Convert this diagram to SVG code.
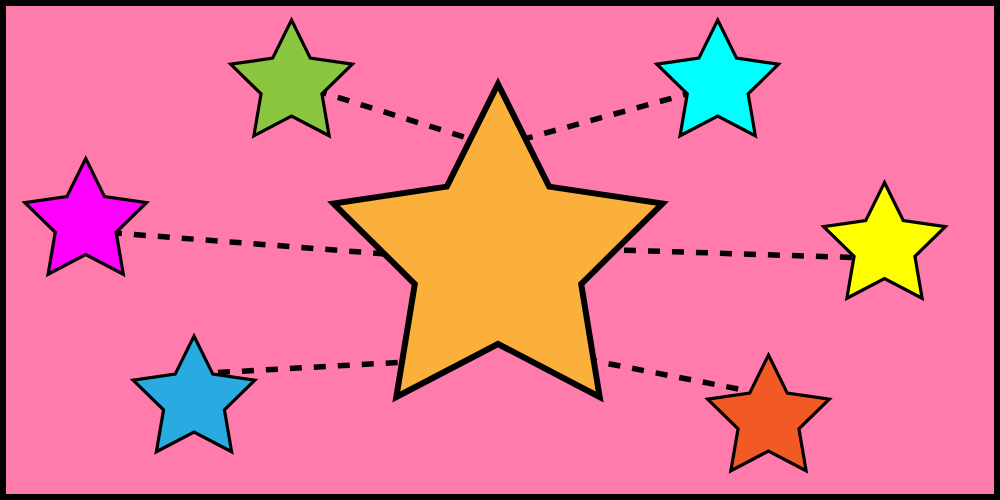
<svg xmlns="http://www.w3.org/2000/svg" xmlns:xlink="http://www.w3.org/1999/xlink" width="1000" height="500" viewBox="0 0 1000 500">
  <style>
    .link { fill: none; stroke: #000; stroke-width: 5.5; stroke-dasharray: 12 12; }
    .small { stroke: #000; stroke-width: 3.2; stroke-linejoin: miter; }
    .big { stroke: #000; stroke-width: 6; stroke-linejoin: miter; }
  </style>
  <defs>
    <path id="star" d="M0,-64 L18.81,-25.89 L60.87,-19.78 L30.43,9.89 L37.62,51.78 L0,32 L-37.62,51.78 L-30.43,9.89 L-60.87,-19.78 L-18.81,-25.89 Z"/>
  </defs>
  <rect x="3" y="3" width="994" height="494" fill="#FF7BAC" stroke="#000" stroke-width="6"/>
  <g id="connectors">
    <line class="link" x1="292" y1="83" x2="490" y2="145.1"/>
    <line class="link" x1="717.7" y1="85.5" x2="510" y2="142.9"/>
    <line class="link" x1="86" y1="230.8" x2="400" y2="255.1"/>
    <line class="link" x1="600" y1="249.4" x2="884" y2="258.5"/>
    <line class="link" x1="194" y1="373.8" x2="420" y2="361.3"/>
    <line class="link" x1="585" y1="359.1" x2="765" y2="394.2"/>
  </g>
  <g id="center-star">
    <path class="big" fill="#FBB03B" d="M498,84 L549.14,186.62 L662.53,203.54 L581.2,284 L599.69,396.96 L498,344 L396.31,396.96 L414.8,284 L333.47,203.54 L446.86,186.62 Z"/>
  </g>
  <g id="star-green"><use xlink:href="#star" href="#star" class="small" fill="#8CC63F" transform="translate(291.5,84)"/></g>
  <g id="star-cyan"><use xlink:href="#star" href="#star" class="small" fill="#00FFFF" transform="translate(717.7,84)"/></g>
  <g id="star-magenta"><use xlink:href="#star" href="#star" class="small" fill="#FF00FF" transform="translate(85.7,222.5)"/></g>
  <g id="star-yellow"><use xlink:href="#star" href="#star" class="small" fill="#FFFF00" transform="translate(884.5,246.5)"/></g>
  <g id="star-blue"><use xlink:href="#star" href="#star" class="small" fill="#29ABE2" transform="translate(194,400)"/></g>
  <g id="star-orange"><use xlink:href="#star" href="#star" class="small" fill="#F15A24" transform="translate(768.5,419)"/></g>
</svg>
